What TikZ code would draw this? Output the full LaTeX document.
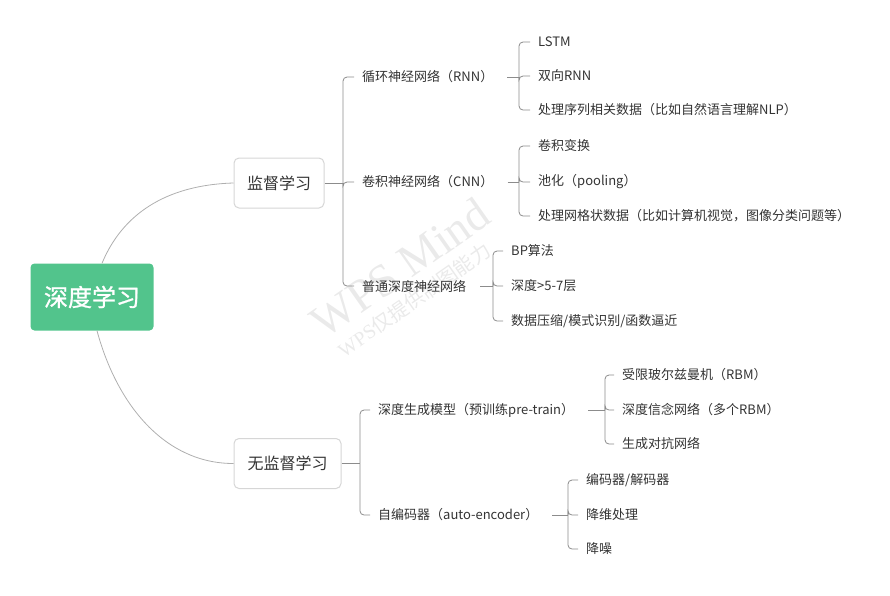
\documentclass[tikz,border=0pt]{standalone}
\usepackage{fontspec}
\setmainfont{Noto Sans CJK SC}
\newfontfamily\mmwmfont{Liberation Serif}
\newfontfamily\mmmedium{Noto Sans CJK SC}[FakeBold=1]
\definecolor{mmgreen}{RGB}{82,196,140}
\definecolor{mmtext}{RGB}{51,51,51}
\definecolor{mmline}{RGB}{140,140,140}
\definecolor{mmedge}{RGB}{214,214,214}
\definecolor{mmcurve}{RGB}{175,175,175}
\definecolor{mmwater}{RGB}{234,234,234}
% fork: [shorten], parent, junction, children
\newcommand\mmFork[4][]{%
  \draw[mmln, #1] (#2) -- (#3);
  \foreach \c in {#4}
    {\draw[mmln, rounded corners=4pt] (#3) |- (\c.west);}}

\begin{document}
\begin{tikzpicture}[
    x=1pt, y=-1pt,
    mmroot/.style = {fill=mmgreen, rounded corners=4pt, text=white,
                     minimum width=123pt, minimum height=67pt,
                     font=\mmmedium\fontsize{24}{24}\selectfont},
    mmtop/.style  = {draw=mmedge, line width=1pt, rounded corners=5pt, fill=white,
                     text=mmtext, minimum height=50pt,
                     font=\fontsize{16}{16}\selectfont},
    mmlbl/.style  = {anchor=west, text=mmtext, inner xsep=8pt, inner ysep=2pt,
                     font=\fontsize{13}{13}\selectfont},
    mmln/.style   = {mmline, line width=0.8pt},
    mmcv/.style   = {mmcurve, line width=0.8pt},
    mmwm/.style   = {text=mmwater, rotate=35}]

  \useasboundingbox (0,0) rectangle (890,595);

  %% watermark
  \node[mmwm, font=\mmwmfont\fontsize{46}{46}\selectfont] (wm) at (400,268) {WPS Mind};
  \node[mmwm, font=\fontsize{20}{20}\selectfont] (wmsub) at (414,300) {{\mmwmfont WPS}仅提供制图能力};

  %% ---- root and first level ----------------------------------------
  \node[mmroot] (root) at (92,297) {深度学习};
  \node[mmtop, minimum width=90pt]  (sup) at (279,183)   {监督学习};
  \node[mmtop, minimum width=107pt] (uns) at (287.5,463.5) {无监督学习};

  \draw[mmcv] ([xshift=10pt]root.north) .. controls (122,215) and (165,185) .. (sup.west);
  \draw[mmcv] ([xshift=5pt]root.south) .. controls (117,405) and (165,463.5) .. (uns.west);

  %% ---- 监督学习 -------------------------------------------------------
  \node[mmlbl] (rnn) at (354,77)  {循环神经网络（RNN）};
  \node[mmlbl] (cnn) at (354,182) {卷积神经网络（CNN）};
  \node[mmlbl] (dnn) at (354,286) {普通深度神经网络};
  \coordinate (jsup) at (343,183);
  \mmFork{sup}{jsup}{rnn,cnn,dnn}

  \node[mmlbl] (lstm)  at (530,42)  {LSTM};
  \node[mmlbl] (birnn) at (530,76)  {双向RNN};
  \node[mmlbl] (seq)   at (530,110) {处理序列相关数据（比如自然语言理解NLP）};
  \coordinate (jrnn) at (519,77);
  \mmFork[shorten <=6pt]{rnn}{jrnn}{lstm,birnn,seq}

  \node[mmlbl] (conv) at (530,146) {卷积变换};
  \node[mmlbl] (pool) at (530,182) {池化（pooling）};
  \node[mmlbl] (grid) at (530,216) {处理网格状数据（比如计算机视觉，图像分类问题等）};
  \coordinate (jcnn) at (519,182);
  \mmFork[shorten <=6pt]{cnn}{jcnn}{conv,pool,grid}

  \node[mmlbl] (bp)    at (503,251) {BP算法};
  \node[mmlbl] (depth) at (503,286) {深度>5-7层};
  \node[mmlbl] (cmp)   at (503,321) {数据压缩/模式识别/函数逼近};
  \coordinate (jdnn) at (493,286);
  \mmFork[shorten <=6pt]{dnn}{jdnn}{bp,depth,cmp}

  %% ---- 无监督学习 -----------------------------------------------------
  \node[mmlbl] (gen) at (370,410) {深度生成模型（预训练pre-train）};
  \node[mmlbl] (ae)  at (370,515) {自编码器（auto-encoder）};
  \coordinate (juns) at (360,463.5);
  \mmFork{uns}{juns}{gen,ae}

  \node[mmlbl] (rbm) at (614,375) {受限玻尔兹曼机（RBM）};
  \node[mmlbl] (dbn) at (614,410) {深度信念网络（多个RBM）};
  \node[mmlbl] (gan) at (614,444) {生成对抗网络};
  \coordinate (jgen) at (605,410);
  \mmFork[shorten <=6pt]{gen}{jgen}{rbm,dbn,gan}

  \node[mmlbl] (enc)   at (578,480) {编码器/解码器};
  \node[mmlbl] (dim)   at (578,515) {降维处理};
  \node[mmlbl] (noise) at (578,549) {降噪};
  \coordinate (jae) at (568,515);
  \mmFork[shorten <=6pt]{ae}{jae}{enc,dim,noise}
\end{tikzpicture}
\end{document}
